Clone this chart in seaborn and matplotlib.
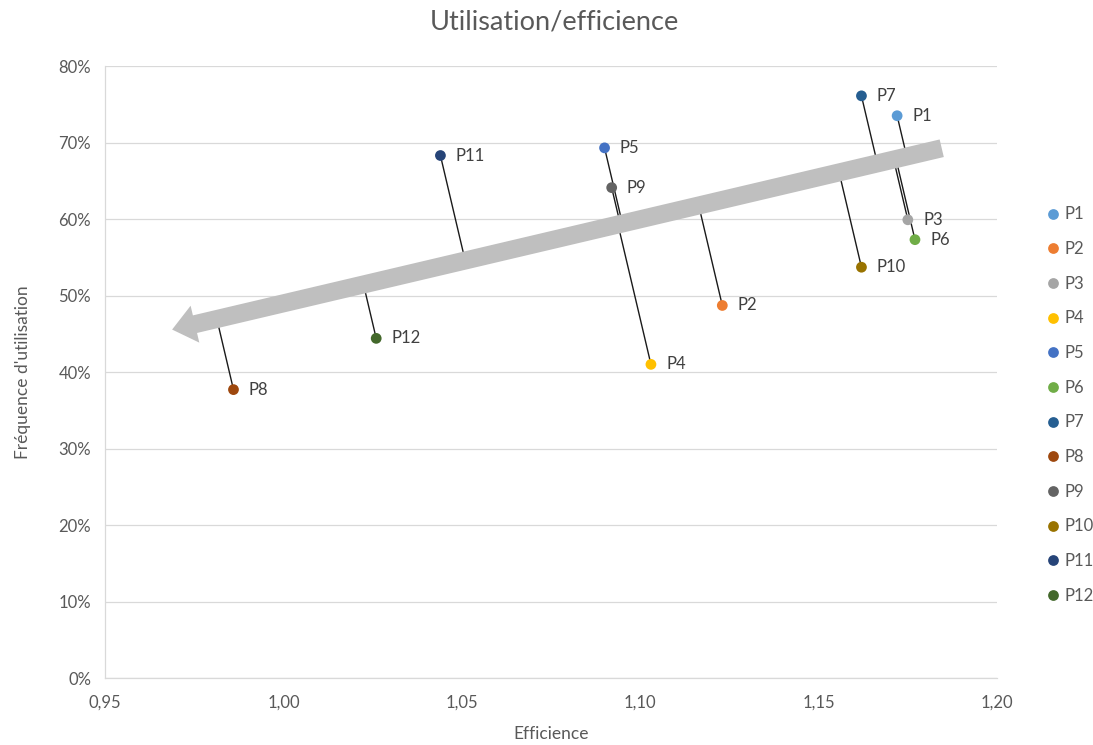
import numpy as np
import pandas as pd
import matplotlib
matplotlib.use("Agg")
import matplotlib.pyplot as plt
import seaborn as sns
from matplotlib.ticker import FuncFormatter, MultipleLocator

# ---- data ----
names = ["P1", "P2", "P3", "P4", "P5", "P6", "P7", "P8", "P9", "P10", "P11", "P12"]
efficience = [1.172, 1.123, 1.175, 1.103, 1.090, 1.177, 1.162, 0.986, 1.092, 1.162, 1.044, 1.026]
frequence = [0.735, 0.487, 0.599, 0.410, 0.693, 0.573, 0.761, 0.377, 0.641, 0.537, 0.683, 0.444]
colors = ["#5B9BD5", "#ED7D31", "#A5A5A5", "#FFC000", "#4472C4", "#70AD47",
          "#255E91", "#9E480E", "#636363", "#997300", "#264478", "#43682B"]
# trend arrow (tail -> head), in data units
arrow_x = [1.1845, 0.9688]
arrow_y = [0.6925, 0.4555]

df = pd.DataFrame({"Efficience": efficience, "Frequence": frequence, "Nom": names})

sns.set_theme(style="white")
plt.rcParams["font.family"] = ["Lato", "DejaVu Sans"]
txt = "#595959"

fig = plt.figure(figsize=(10.93, 7.45), dpi=100)
ax = fig.add_axes([0.0961, 0.0899, 0.8161, 0.8215])

ax.set_xlim(0.95, 1.20)
ax.set_ylim(0, 0.80)
ax.xaxis.set_major_locator(MultipleLocator(0.05))
ax.yaxis.set_major_locator(MultipleLocator(0.10))
ax.xaxis.set_major_formatter(FuncFormatter(lambda v, p: f"{v:.2f}".replace(".", ",")))
ax.yaxis.set_major_formatter(FuncFormatter(lambda v, p: f"{v*100:.0f}%"))
ax.grid(axis="y", color="#D9D9D9", lw=0.9)
ax.grid(axis="x", visible=False)
ax.set_axisbelow(True)
for s in ["top", "right"]:
    ax.spines[s].set_visible(False)
for s in ["left", "bottom"]:
    ax.spines[s].set_color("#D9D9D9")
    ax.spines[s].set_linewidth(0.9)
ax.tick_params(axis="both", length=0, labelsize=12, labelcolor=txt)
ax.tick_params(axis="x", pad=12)
ax.tick_params(axis="y", pad=10)

# perpendicular drop lines (perpendicular in display space) to the arrow
T = ax.transData
a = T.transform((arrow_x[0], arrow_y[0]))
b = T.transform((arrow_x[1], arrow_y[1]))
d = (b - a) / np.linalg.norm(b - a)
for x, y in zip(efficience, frequence):
    p = T.transform((x, y))
    foot = a + np.dot(p - a, d) * d
    fx, fy = T.inverted().transform(foot)
    ax.plot([x, fx], [y, fy], color="#1a1a1a", lw=1.0, zorder=2)

ax.annotate("", xy=(arrow_x[1], arrow_y[1]), xytext=(arrow_x[0], arrow_y[0]),
            arrowprops=dict(arrowstyle="simple,head_length=1.3,head_width=2.1,tail_width=1.0",
                            mutation_scale=13, color="#BFBFBF", shrinkA=0, shrinkB=0, lw=0),
            zorder=3)

sns.scatterplot(data=df, x="Efficience", y="Frequence", hue="Nom", palette=colors,
                s=60, linewidth=0, ax=ax, zorder=4, legend=True)

for x, y, n in zip(efficience, frequence, names):
    ax.annotate(n, (x, y), xytext=(11, 0), textcoords="offset points",
                va="center", ha="left", fontsize=12, color="#404040", zorder=5)

ax.set_xlabel("Efficience", fontsize=12.5, color=txt, labelpad=11)
ax.set_ylabel("Fréquence d'utilisation", fontsize=12.5, color=txt, labelpad=20)
fig.suptitle("Utilisation/efficience", x=0.5075, y=0.987, fontsize=19.5, color=txt)

sns.move_legend(ax, loc="center left", bbox_to_anchor=(1.035, 0.446), frameon=False,
                title=None, fontsize=12, labelspacing=1.12, handletextpad=0.1,
                markerscale=1.0, handlelength=1.2)
for t in ax.get_legend().get_texts():
    t.set_color(txt)

fig.savefig("out.png", dpi=100)
